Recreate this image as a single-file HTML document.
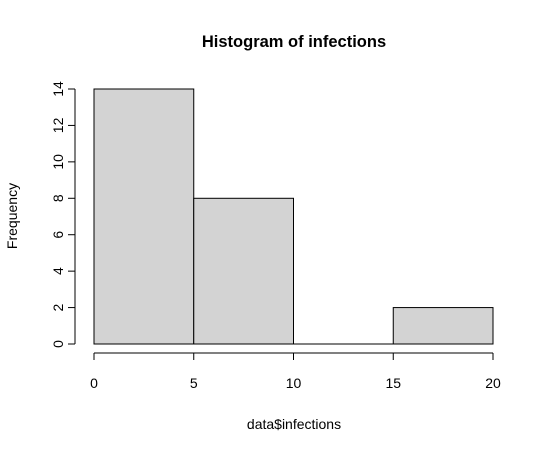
<!DOCTYPE html>
<html><head><meta charset="utf-8"><style>
html,body{margin:0;padding:0;background:#fff;}
svg{display:block;font-family:"Liberation Sans",Arial,sans-serif;}
</style></head><body>
<svg id="chart" width="550" height="453" viewBox="0 0 550 453">
<text x="294" y="47" text-anchor="middle" font-size="16.5" font-weight="bold">Histogram of infections</text>
<text x="294" y="429" text-anchor="middle" font-size="14">data$infections</text>
<text transform="translate(17,216) rotate(-90)" text-anchor="middle" font-size="14">Frequency</text>
<g id="bars"></g>
<g id="xaxis"></g>
<g id="yaxis"></g>
</svg>
<script>
const binEdges = [0, 5, 10, 15, 20];
const counts = [14, 8, 0, 2];
const xTicks = [0, 5, 10, 15, 20];
const yTicks = [0, 2, 4, 6, 8, 10, 12, 14];

const NS = "http://www.w3.org/2000/svg";
const xs = v => 94 + (v - 0) * (493 - 94) / 20;
const ys = v => 344 - v * (344 - 89) / 14;
function mk(tag, attrs, parent) {
  const e = document.createElementNS(NS, tag);
  for (const k in attrs) e.setAttribute(k, attrs[k]);
  parent.appendChild(e);
  return e;
}
const bars = document.getElementById('bars');
counts.forEach((c, i) => {
  const x0 = xs(binEdges[i]), x1 = xs(binEdges[i + 1]);
  let r;
  if (c === 0) {
    r = mk('line', {x1: x0, x2: x1, y1: ys(0), y2: ys(0), stroke: '#000', 'stroke-width': 1}, bars);
  } else {
    r = mk('rect', {x: x0, y: ys(c), width: x1 - x0, height: ys(0) - ys(c), fill: '#d3d3d3', stroke: '#000', 'stroke-width': 1}, bars);
  }
  
  
});
const xa = document.getElementById('xaxis');
mk('line', {x1: xs(xTicks[0]), x2: xs(xTicks[xTicks.length - 1]), y1: 353, y2: 353, stroke: '#000'}, xa);
xTicks.forEach(t => {
  mk('line', {x1: xs(t), x2: xs(t), y1: 353, y2: 360, stroke: '#000'}, xa);
  const tx = mk('text', {x: xs(t), y: 388, 'text-anchor': 'middle', 'font-size': 14}, xa);
  tx.textContent = t;
  
  
});
const ya = document.getElementById('yaxis');
mk('line', {x1: 75, x2: 75, y1: ys(yTicks[0]), y2: ys(yTicks[yTicks.length - 1]), stroke: '#000'}, ya);
yTicks.forEach(t => {
  mk('line', {x1: 68, x2: 75, y1: ys(t), y2: ys(t), stroke: '#000'}, ya);
  const tx = mk('text', {transform: 'translate(63,' + ys(t) + ') rotate(-90)', 'text-anchor': 'middle', 'font-size': 14}, ya);
  tx.textContent = t;
  
  
});
</script>
</body></html>
